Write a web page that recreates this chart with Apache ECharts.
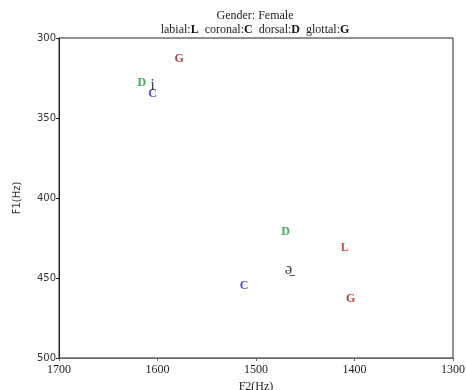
<!DOCTYPE html>
<html>
<head>
<meta charset="utf-8">
<script src="https://cdn.jsdelivr.net/npm/echarts@6/dist/echarts.min.js"></script>
<style>
  html, body { margin: 0; padding: 0; background: #fff; }
  #chart { width: 466px; height: 390px; }
</style>
</head>
<body>
<div id="chart"></div>
<script>
// F2 / F1 (Hz) by place of articulation
const labialPts = [[1410, 431]]
const coronalPts = [[1605, 335], [1512, 455]]
const dorsalPts = [[1616, 328], [1470, 421]]
const glottalPts = [[1578, 313], [1404, 463]]
const vowelPts = [[1605, 330, 'i'], [1467, 445, 'ə̠']]

const xTicks = [1300, 1700, 100]
const yTicks = [300, 500, 50]

const chart = echarts.init(document.getElementById('chart'))
const serif = '"Liberation Serif", "DejaVu Serif", serif'

// one series per letter, drawn as text only
function letterSeries(name, pts, letter, color) {
  return {
    name: name,
    type: 'scatter',
    data: pts,
    symbolSize: 1,
    itemStyle: { color: 'rgba(0,0,0,0)' },
    label: {
      show: true,
      position: 'inside',
      formatter: letter,
      color: color,
      fontFamily: serif,
      fontWeight: 'bold',
      fontSize: 12
    }
  }
}

const option = {
  animation: false,
  title: {
    left: 250,
    top: 4,
    textAlign: 'center',
    text: 'Gender: Female\nlabial:{b|L}  coronal:{b|C}  dorsal:{b|D}  glottal:{b|G}',
    textStyle: {
      fontFamily: serif,
      fontSize: 12,
      fontWeight: 'normal',
      color: '#222',
      lineHeight: 14,
      rich: {
        b: { fontFamily: serif, fontSize: 12, fontWeight: 'bold', color: '#111' }
      }
    }
  },
  grid: {
    left: 59, right: 13, top: 38, bottom: 32,
    containLabel: false,
    outerBoundsMode: 'none',
    show: true, borderColor: '#222', borderWidth: 1
  },
  xAxis: {
    type: 'value',
    inverse: true,
    min: xTicks[0], max: xTicks[1], interval: xTicks[2],
    name: 'F2(Hz)',
    nameLocation: 'middle',
    nameGap: 18,
    nameTextStyle: { fontFamily: serif, fontSize: 12, color: '#222' },
    axisLine: { show: true, lineStyle: { color: '#666' } },
    axisTick: { show: true, length: 3, lineStyle: { color: '#666' } },
    axisLabel: { fontFamily: serif, fontSize: 12, color: '#222', margin: 6, formatter: v => String(v) },
    splitLine: { show: false }
  },
  yAxis: {
    type: 'value',
    inverse: true,
    min: yTicks[0], max: yTicks[1], interval: yTicks[2],
    name: 'F1(Hz)',
    nameLocation: 'middle',
    nameGap: 37,
    nameTextStyle: { fontFamily: '"DejaVu Sans", sans-serif', fontSize: 10, color: '#333' },
    axisLine: { show: true, lineStyle: { color: '#222' } },
    axisTick: { show: true, length: 3, lineStyle: { color: '#222' } },
    axisLabel: { fontFamily: '"DejaVu Sans", sans-serif', fontSize: 10, color: '#333', margin: 3, formatter: v => String(v) },
    splitLine: { show: false }
  },
  series: [
    letterSeries('labial', labialPts, 'L', '#cc1f1f'),
    letterSeries('coronal', coronalPts, 'C', '#2222b0'),
    letterSeries('dorsal', dorsalPts, 'D', '#1f8f2a'),
    letterSeries('glottal', glottalPts, 'G', '#8a1515'),
    {
      name: 'vowel',
      type: 'scatter',
      data: vowelPts,
      symbolSize: 1,
      itemStyle: { color: 'rgba(0,0,0,0)' },
      label: {
        show: true,
        position: 'inside',
        formatter: p => p.data[2],
        color: '#111',
        fontFamily: serif,
        fontSize: 17
      }
    }
  ]
}

chart.setOption(option)
</script>
</body>
</html>
